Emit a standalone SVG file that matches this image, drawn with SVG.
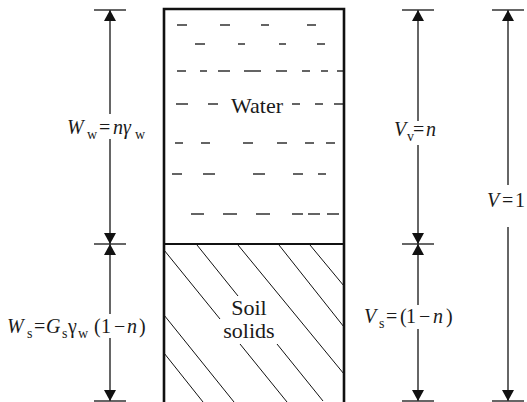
<svg xmlns="http://www.w3.org/2000/svg" width="527" height="402" viewBox="0 0 527 402">
<style>
  .txt { font-family: "Liberation Serif", "Times New Roman", "DejaVu Serif", serif; fill: #1a1a1a; }
  .lbl { font-size: 20px; }
  .it { font-style: italic; }
  .sub { font-size: 14px; }
  .node { font-size: 22px; }
  .dim { stroke: #333; stroke-width: 1.5; fill: none; }
  .tick { stroke: #333; stroke-width: 1.5; }
  .up { marker-start: url(#arr); }
  .down { marker-end: url(#arr); }
  .dash { stroke: #222; stroke-width: 1.4; }
  .hatch { stroke: #111; stroke-width: 1; }
  .wall { stroke: #111; stroke-width: 2.6; fill: none; }
</style>
<defs>
  <marker id="arr" viewBox="0 0 11 12" refX="11" refY="6" markerWidth="11" markerHeight="12" markerUnits="userSpaceOnUse" orient="auto-start-reverse">
    <path d="M0,0 L11,6 L0,12 z" fill="#111"/>
  </marker>
</defs>
<rect width="527" height="402" fill="#fff"/>

<g id="water">
  <g class="dash">
    <line x1="177" y1="25" x2="187" y2="25"/><line x1="220" y1="25" x2="230" y2="25"/><line x1="261" y1="25" x2="269" y2="25"/><line x1="307" y1="25" x2="316" y2="25"/>
    <line x1="195" y1="44" x2="205" y2="44"/><line x1="238" y1="44" x2="245" y2="44"/><line x1="279" y1="44" x2="286" y2="44"/><line x1="317" y1="44" x2="325" y2="44"/>
    <line x1="177" y1="71" x2="186" y2="71"/><line x1="200" y1="71" x2="207" y2="71"/><line x1="218" y1="71" x2="230" y2="71"/><line x1="244" y1="71" x2="261" y2="71"/><line x1="276" y1="71" x2="287" y2="71"/><line x1="302" y1="71" x2="310" y2="71"/><line x1="321" y1="71" x2="328" y2="71"/><line x1="337" y1="71" x2="343" y2="71"/>
    <line x1="176" y1="104" x2="188" y2="104"/><line x1="208" y1="104" x2="218" y2="104"/><line x1="292" y1="104" x2="300" y2="104"/><line x1="315" y1="104" x2="323" y2="104"/><line x1="334" y1="104" x2="343" y2="104"/>
    <line x1="175" y1="143" x2="183" y2="143"/><line x1="201" y1="143" x2="210" y2="143"/><line x1="243" y1="143" x2="253" y2="143"/><line x1="277" y1="143" x2="287" y2="143"/><line x1="305" y1="143" x2="314" y2="143"/><line x1="326" y1="143" x2="335" y2="143"/>
    <line x1="172" y1="174" x2="182" y2="174"/><line x1="203" y1="174" x2="215" y2="174"/><line x1="253" y1="174" x2="265" y2="174"/><line x1="293" y1="174" x2="303" y2="174"/><line x1="318" y1="174" x2="326" y2="174"/>
    <line x1="191" y1="214" x2="204" y2="214"/><line x1="223" y1="214" x2="237" y2="214"/><line x1="256" y1="214" x2="270" y2="214"/><line x1="292" y1="214" x2="303" y2="214"/><line x1="308" y1="214" x2="320" y2="214"/><line x1="327" y1="214" x2="339" y2="214"/>
  </g>
  <text class="txt node" x="257" y="113" text-anchor="middle">Water</text>
</g>

<g id="soil">
  <g class="hatch">
    <line x1="164" y1="250" x2="220" y2="319"/><line x1="240" y1="344" x2="287" y2="402"/>
    <line x1="197" y1="245" x2="238" y2="296"/><line x1="277" y1="344" x2="323" y2="401"/>
    <line x1="238" y1="245" x2="344" y2="374"/>
    <line x1="279" y1="245" x2="344" y2="327"/>
    <line x1="310" y1="245" x2="344" y2="286"/>
    <line x1="164" y1="315" x2="234" y2="402"/>
    <line x1="164" y1="353" x2="203" y2="402"/>
  </g>
  <text class="txt node" x="249" y="315" text-anchor="middle">Soil</text>
  <text class="txt node" x="249" y="338" text-anchor="middle">solids</text>
</g>

<g id="column">
  <path class="wall" d="M164,404 V9 H344 V404"/>
  <line x1="164" y1="244" x2="344" y2="244" stroke="#111" stroke-width="2"/>
</g>

<g id="connectors">
  <g class="tick">
    <line x1="94" y1="10" x2="126" y2="10"/><line x1="94" y1="244" x2="126" y2="244"/><line x1="94" y1="401" x2="126" y2="401"/>
    <line x1="402" y1="10" x2="434" y2="10"/><line x1="402" y1="244" x2="434" y2="244"/><line x1="402" y1="401" x2="434" y2="401"/>
    <line x1="492" y1="10" x2="524" y2="10"/><line x1="492" y1="401" x2="524" y2="401"/>
  </g>
  <line class="dim up" x1="110" y1="10" x2="110" y2="114"/>
  <line class="dim down" x1="110" y1="139" x2="110" y2="244"/>
  <line class="dim up" x1="110" y1="244" x2="110" y2="314"/>
  <line class="dim down" x1="110" y1="338" x2="110" y2="401"/>
  <line class="dim up" x1="418" y1="10" x2="418" y2="121"/>
  <line class="dim down" x1="418" y1="145" x2="418" y2="244"/>
  <line class="dim up" x1="418" y1="244" x2="418" y2="305"/>
  <line class="dim down" x1="418" y1="329" x2="418" y2="401"/>
  <line class="dim up" x1="508" y1="10" x2="508" y2="185"/>
  <line class="dim down" x1="508" y1="227" x2="508" y2="401"/>
</g>

<g id="label-Ww">
  <text class="txt lbl"><tspan class="it" x="67" y="134">W</tspan><tspan class="sub" x="87" y="139">w</tspan><tspan x="99" y="134">=</tspan><tspan class="it" x="113" y="134">n</tspan><tspan class="it" x="123" y="134">γ</tspan><tspan class="sub" x="135" y="139">w</tspan></text>
</g>
<g id="label-Ws">
  <text class="txt lbl"><tspan class="it" x="7" y="333">W</tspan><tspan class="sub" x="27" y="338">s</tspan><tspan x="34" y="333">=</tspan><tspan class="it" x="46" y="333">G</tspan><tspan class="sub" x="62" y="338">s</tspan><tspan x="68" y="333">γ</tspan><tspan class="sub" x="78" y="338">w</tspan><tspan x="94" y="333">(</tspan><tspan x="101" y="333">1</tspan><tspan x="114" y="333">−</tspan><tspan class="it" x="127" y="333">n</tspan><tspan x="139" y="333">)</tspan></text>
</g>
<g id="label-Vv">
  <text class="txt lbl"><tspan class="it" x="394" y="136">V</tspan><tspan class="sub" x="407" y="141">v</tspan><tspan x="413" y="136">=</tspan><tspan class="it" x="426" y="136">n</tspan></text>
</g>
<g id="label-Vs">
  <text class="txt lbl"><tspan class="it" x="364" y="323">V</tspan><tspan class="sub" x="379" y="328">s</tspan><tspan x="386" y="323">=</tspan><tspan x="400" y="323">(</tspan><tspan x="406" y="323">1</tspan><tspan x="419" y="323">−</tspan><tspan class="it" x="433" y="323">n</tspan><tspan x="446" y="323">)</tspan></text>
</g>
<g id="label-V">
  <text class="txt lbl"><tspan class="it" x="487" y="207">V</tspan><tspan x="502" y="207">=</tspan><tspan x="515" y="207">1</tspan></text>
</g>
</svg>
